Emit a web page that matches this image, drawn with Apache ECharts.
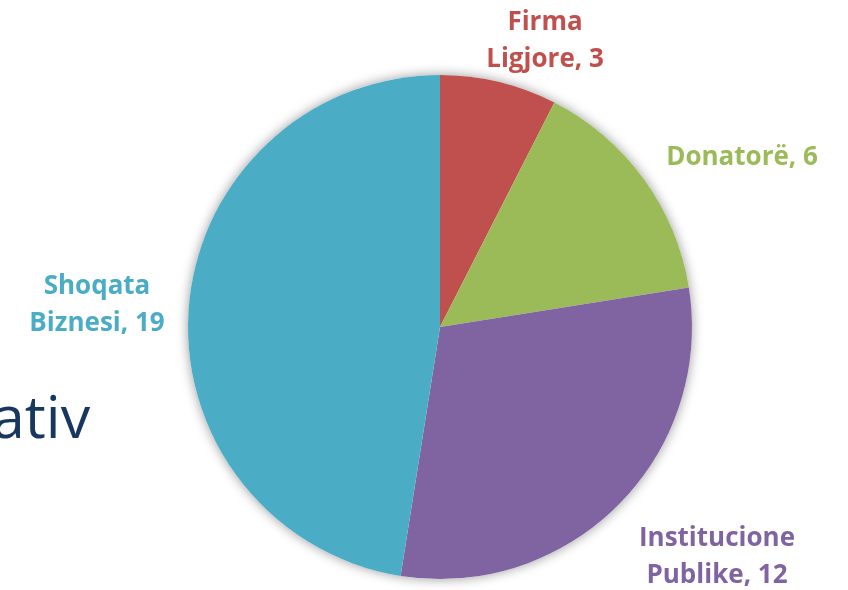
<!DOCTYPE html>
<html><head><meta charset="utf-8">
<script src="https://cdn.jsdelivr.net/npm/echarts@6/dist/echarts.min.js"></script>
<style>html,body{margin:0;padding:0;background:#fff}#c{width:848px;height:590px}</style>
</head><body><div id="c"></div>
<script>
const categories = ['Firma\nLigjore', 'Donatorë', 'Institucione\nPublike', 'Shoqata\nBiznesi'];
const values = [3, 6, 12, 19];
const colors = ['#C0504D', '#9BBB59', '#8064A2', '#4BACC6'];
const labelPos = [[545, 41], [742, 158], [717, 557], [97, 305]];

const chart = echarts.init(document.getElementById('c'));
chart.setOption({
  animation: false,
  graphic: [{
    type: 'text', left: -8, top: 392,
    style: { text: 'ativ', font: '59px "Open Sans", sans-serif', fill: '#17375E' }
  }],
  series: [{
    type: 'pie', silent: true, z: 1,
    center: [440, 327], radius: 252,
    data: [{ value: values.reduce((a, b) => a + b, 0), itemStyle: { color: '#fff', shadowBlur: 12, shadowColor: 'rgba(0,0,0,0.4)' } }],
    label: { show: false }, labelLine: { show: false }
  }, {
    type: 'pie', z: 2,
    center: [440, 327],
    radius: 252,
    startAngle: 90,
    clockwise: true,
    edgeDistance: 0,
    data: categories.map((c, i) => ({
      name: c, value: values[i],
      itemStyle: { color: colors[i] },
      label: { color: colors[i] }
    })),
    itemStyle: { borderWidth: 0 },
    label: {
      show: true,
      position: 'inside',
      overflow: 'none',
      formatter: p => p.name.replace('\n', p.dataIndex === 1 ? ' ' : '\n') + ', ' + p.value,
      fontFamily: '"Open Sans", sans-serif',
      fontWeight: 'bold',
      fontSize: 26,
      lineHeight: 37,
      align: 'center'
    },
    labelLine: { show: false },
    labelLayout: p => ({ x: labelPos[p.dataIndex][0], y: labelPos[p.dataIndex][1], align: 'center', verticalAlign: 'middle' })
  }]
});
</script></body></html>
